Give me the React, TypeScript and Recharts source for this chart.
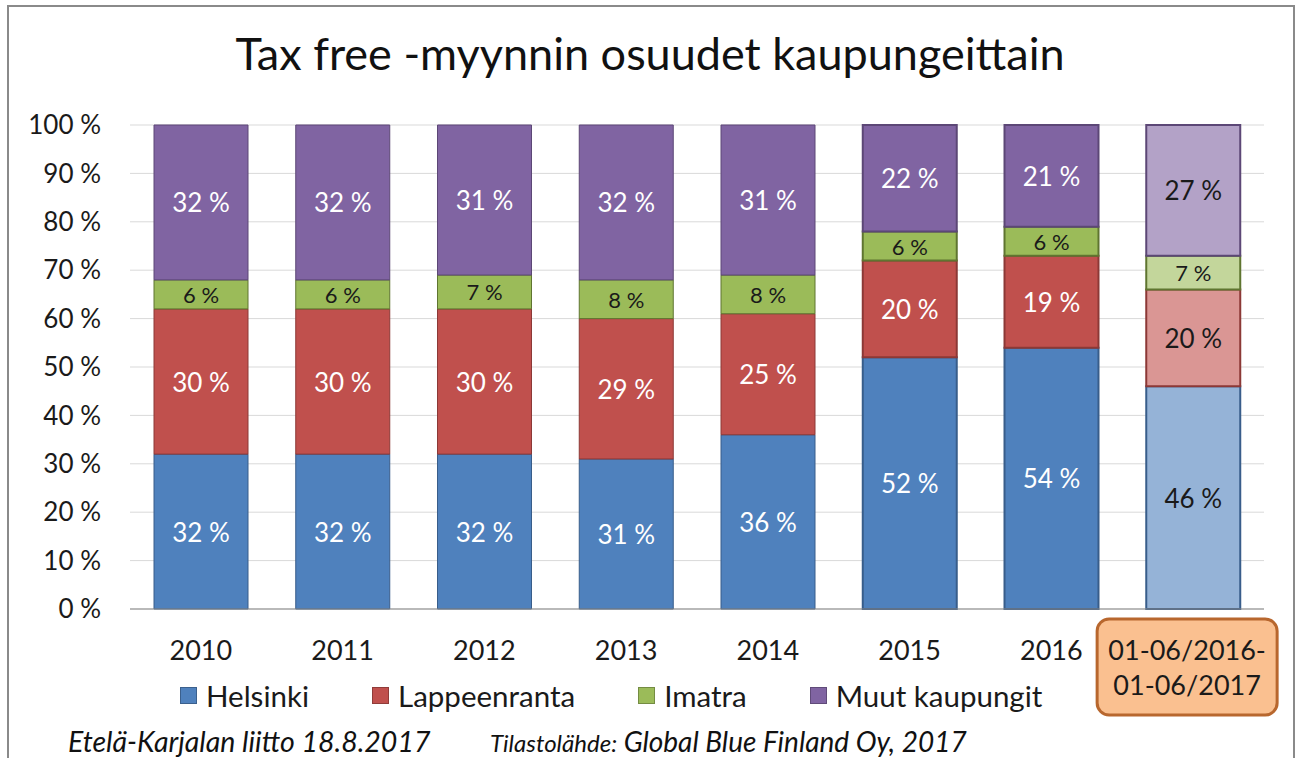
import React from 'react';
import { BarChart, Bar, XAxis, YAxis, CartesianGrid, LabelList, Cell, Legend } from 'recharts';

const categories = ['2010', '2011', '2012', '2013', '2014', '2015', '2016', '01-06/2016-01-06/2017'];
const helsinki = [32, 32, 32, 31, 36, 52, 54, 46];
const lappeenranta = [30, 30, 30, 29, 25, 20, 19, 20];
const imatra = [6, 6, 7, 8, 8, 6, 6, 7];
const muut = [32, 32, 31, 32, 31, 22, 21, 27];
const yTicks = [0, 10, 20, 30, 40, 50, 60, 70, 80, 90, 100];

const FONT = 'Lato, "Open Sans", sans-serif';
const LAST = categories.length - 1;

const data = categories.map((c, i) => ({
  name: c,
  Helsinki: helsinki[i],
  Lappeenranta: lappeenranta[i],
  Imatra: imatra[i],
  'Muut kaupungit': muut[i],
}));

const series = [
  { key: 'Helsinki', fill: '#4F81BD', light: '#95B3D7', stroke: '#385D8A', labelDark: false, size: 26 },
  { key: 'Lappeenranta', fill: '#C0504D', light: '#DA9694', stroke: '#8C3836', labelDark: false, size: 26 },
  { key: 'Imatra', fill: '#9BBB59', light: '#C3D69B', stroke: '#5F7530', labelDark: true, size: 22 },
  { key: 'Muut kaupungit', fill: '#8064A2', light: '#B3A2C7', stroke: '#5C4776', labelDark: false, size: 26 },
];

const makeLabel = (s: typeof series[number]) => (props: any) => {
  const { x, y, width, height, value, index } = props;
  const dark = s.labelDark || index === LAST;
  return (
    <text
      x={Number(x) + Number(width) / 2}
      y={Number(y) + Number(height) / 2}
      textAnchor="middle"
      dominantBaseline="central"
      fill={dark ? '#1a1a1a' : '#ffffff'}
      fontSize={s.size}
      fontFamily={FONT}
    >
      {value} %
    </text>
  );
};

const XTick = (props: any) => {
  const { x, y, payload, index } = props;
  if (index === LAST) {
    const parts = ['01-06/2016-', '01-06/2017'];
    return (
      <g>
        <rect x={x - 96} y={y + 10} width={180} height={96} rx={12} ry={12} fill="#FAC090" stroke="#B8672E" strokeWidth={3} />
        <text x={x - 6} y={y + 51} textAnchor="middle" fontSize={27} fontFamily={FONT} fill="#1a1a1a">{parts[0]}</text>
        <text x={x - 6} y={y + 86} textAnchor="middle" fontSize={27} fontFamily={FONT} fill="#1a1a1a">{parts[1]}</text>
      </g>
    );
  }
  return (
    <text x={x} y={y + 51} textAnchor="middle" fontSize={27} fontFamily={FONT} fill="#1a1a1a">
      {payload.value}
    </text>
  );
};

const LegendContent = () => (
  <div style={{ display: 'flex', height: 30, alignItems: 'center', paddingLeft: 180, fontFamily: FONT, fontSize: 29.5, color: '#1a1a1a' }}>
    {series.map((s) => (
      <div key={s.key} style={{ display: 'flex', alignItems: 'center', marginRight: 63 }}>
        <span style={{ display: 'inline-block', width: 17, height: 17, background: s.fill, marginRight: 9, boxSizing: 'border-box', border: '1px solid rgba(0,0,0,0.25)' }} />
        <span>{s.key}</span>
      </div>
    ))}
  </div>
);

export default function App() {
  return (
    <div style={{ position: 'fixed', left: 0, top: 0, width: 1300, height: 758, overflow: 'hidden', background: '#fff' }}>
      <div style={{ position: 'absolute', left: 7, top: 5, width: 1284, height: 800, border: '2px solid #8a8a8a' }} />
      <div style={{ position: 'absolute', left: 0, top: 26, width: 1300, textAlign: 'center', fontFamily: FONT, fontSize: 45, color: '#111', lineHeight: '54px' }}>
        Tax free -myynnin osuudet kaupungeittain
      </div>
      <div style={{ position: 'absolute', left: 0, top: 0 }}>
        <BarChart width={1300} height={758} data={data} margin={{ top: 125, right: 36, bottom: 89, left: 0 }} barSize={94}>
          <CartesianGrid vertical={false} stroke="#D9D9D9" />
          <XAxis dataKey="name" axisLine={{ stroke: '#868686' }} tickLine={false} tickSize={0} tickMargin={0} tick={<XTick />} interval={0} />
          <YAxis
            width={130}
            domain={[0, 100]}
            ticks={yTicks}
            axisLine={false}
            tickLine={false}
            tickSize={0}
            tickMargin={29}
            tickFormatter={(v: number) => `${v} %`}
            tick={{ fontSize: 26, fontFamily: FONT, fill: '#1a1a1a' }}
          />
          <Legend verticalAlign="bottom" content={<LegendContent />} wrapperStyle={{ left: 0, top: 680, width: 1300 }} />
          {series.map((s) => (
            <Bar key={s.key} dataKey={s.key} stackId="a" fill={s.fill} isAnimationActive={false}>
              {data.map((_, i) => (
                <Cell key={i} fill={i === LAST ? s.light : s.fill} stroke={s.stroke} strokeWidth={i >= 5 ? 2 : 1} />
              ))}
              <LabelList dataKey={s.key} content={makeLabel(s)} />
            </Bar>
          ))}
        </BarChart>
      </div>
      <div style={{ position: 'absolute', left: 68, top: 724, fontFamily: FONT, fontStyle: 'italic', fontSize: 28.5, color: '#111', whiteSpace: 'nowrap', lineHeight: '34px' }}>
        Etelä-Karjalan liitto 18.8.2017
      </div>
      <div style={{ position: 'absolute', left: 490, top: 724, fontFamily: FONT, fontStyle: 'italic', fontSize: 28, color: '#111', whiteSpace: 'nowrap', lineHeight: '34px' }}>
        <span style={{ fontSize: 24 }}>Tilastolähde:</span> Global Blue Finland Oy, 2017
      </div>
    </div>
  );
}
